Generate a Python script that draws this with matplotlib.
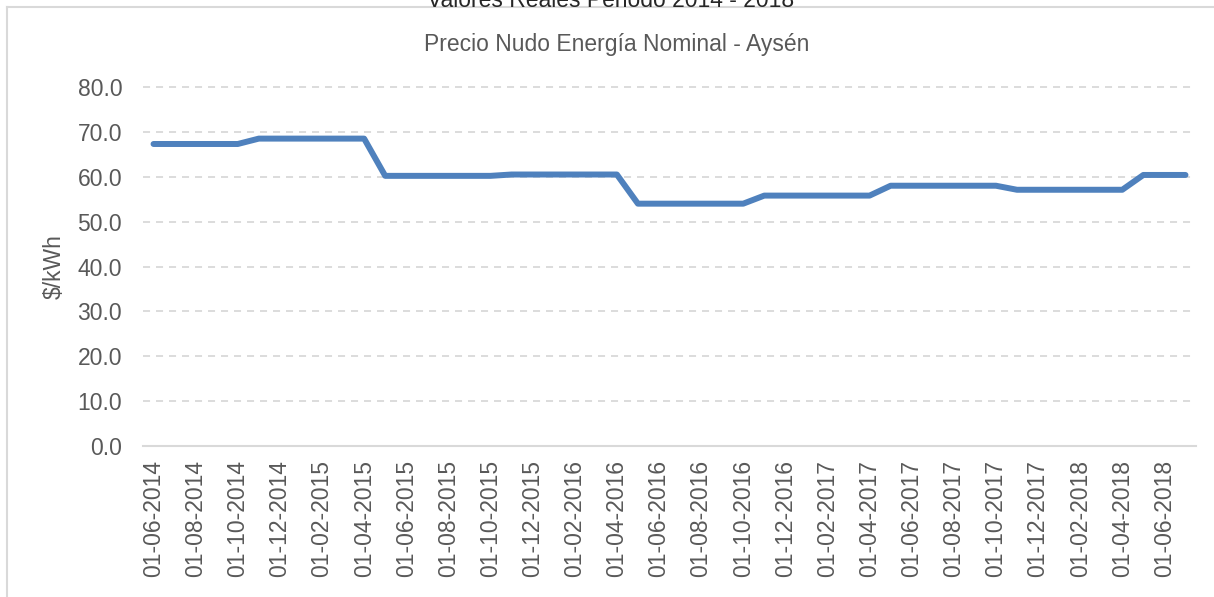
import matplotlib
matplotlib.use("Agg")
import matplotlib.pyplot as plt
from matplotlib.lines import Line2D

plt.rcParams['font.family'] = ['Liberation Sans', 'DejaVu Sans']

# ── Data ─────────────────────────────────────────────────────────────
meses = [
    "01-06-2014", "01-07-2014", "01-08-2014", "01-09-2014", "01-10-2014",
    "01-11-2014", "01-12-2014", "01-01-2015", "01-02-2015", "01-03-2015",
    "01-04-2015", "01-05-2015", "01-06-2015", "01-07-2015", "01-08-2015",
    "01-09-2015", "01-10-2015", "01-11-2015", "01-12-2015", "01-01-2016",
    "01-02-2016", "01-03-2016", "01-04-2016", "01-05-2016", "01-06-2016",
    "01-07-2016", "01-08-2016", "01-09-2016", "01-10-2016", "01-11-2016",
    "01-12-2016", "01-01-2017", "01-02-2017", "01-03-2017", "01-04-2017",
    "01-05-2017", "01-06-2017", "01-07-2017", "01-08-2017", "01-09-2017",
    "01-10-2017", "01-11-2017", "01-12-2017", "01-01-2018", "01-02-2018",
    "01-03-2018", "01-04-2018", "01-05-2018", "01-06-2018", "01-07-2018",
]
precio = [
    67.3, 67.3, 67.3, 67.3, 67.3,
    68.5, 68.5, 68.5, 68.5, 68.5,
    68.5, 60.2, 60.2, 60.2, 60.2,
    60.2, 60.2, 60.5, 60.5, 60.5,
    60.5, 60.5, 60.5, 54.0, 54.0,
    54.0, 54.0, 54.0, 54.0, 55.8,
    55.8, 55.8, 55.8, 55.8, 55.8,
    58.0, 58.0, 58.0, 58.0, 58.0,
    58.0, 57.1, 57.1, 57.1, 57.1,
    57.1, 57.1, 60.4, 60.4, 60.4,
]
y_ticks = [0, 10, 20, 30, 40, 50, 60, 70, 80]

titulo_sup = "Valores Reales Periodo 2014 - 2018"
titulo = "Precio Nudo Energía Nominal - Aysén"
y_label = "$/kWh"

# ── Figure ───────────────────────────────────────────────────────────
W, H = 1214, 597
TXT = "#595959"
GRID = "#D9D9D9"
FS = 16.5

fig = plt.figure(figsize=(W / 100, H / 100), dpi=100)

# plot area: 0 at y=446 px, 80 at y=87 px
px_per_unit = (446 - 87) / 80
top_px = 446 - 81 * px_per_unit
ax = fig.add_axes([143 / W, 1 - 446 / H, (1196 - 143) / W, (446 - top_px) / H])

x = list(range(len(meses)))
ax.plot(x, precio, color="#4F81BD", lw=4.3,
        solid_capstyle="round", solid_joinstyle="round", zorder=3)

ax.set_xlim(-0.5, len(meses) - 0.5)
ax.set_ylim(0, 81)
ax.set_yticks(y_ticks)
ax.set_yticklabels([f"{v:.1f}" for v in y_ticks])
ax.set_xticks(x[::2])
ax.set_xticklabels(meses[::2], rotation=90)

ax.yaxis.grid(True, color=GRID, lw=1.3, linestyle=(0, (3.9, 3.3)))
ax.set_axisbelow(True)
for s in ["top", "right", "left"]:
    ax.spines[s].set_visible(False)
ax.spines["bottom"].set_color(GRID)
ax.spines["bottom"].set_linewidth(1.5)

ax.tick_params(axis="both", length=0, labelsize=FS, labelcolor=TXT)
ax.tick_params(axis="y", pad=15)
ax.tick_params(axis="x", pad=10)

fig.text(54 / W, 1 - 267 / H, y_label, rotation=90, ha="center", va="center",
         fontsize=FS, color=TXT)
fig.text(617 / W, 1 - 45 / H, titulo, ha="center", va="center",
         fontsize=FS, color=TXT)
# upper title, cut off by the image border
fig.text(611 / W, 1 - 7 / H, titulo_sup, ha="center", va="baseline",
         fontsize=FS, color="#262626")

# chart frame (only left and top edges visible)
fig.add_artist(Line2D([7 / W, 7 / W], [0, 1 - 7 / H], transform=fig.transFigure,
                      color=GRID, lw=1.5))
fig.add_artist(Line2D([7 / W, 1], [1 - 7 / H, 1 - 7 / H], transform=fig.transFigure,
                      color=GRID, lw=1.5))

fig.savefig("out.png", dpi=100)
